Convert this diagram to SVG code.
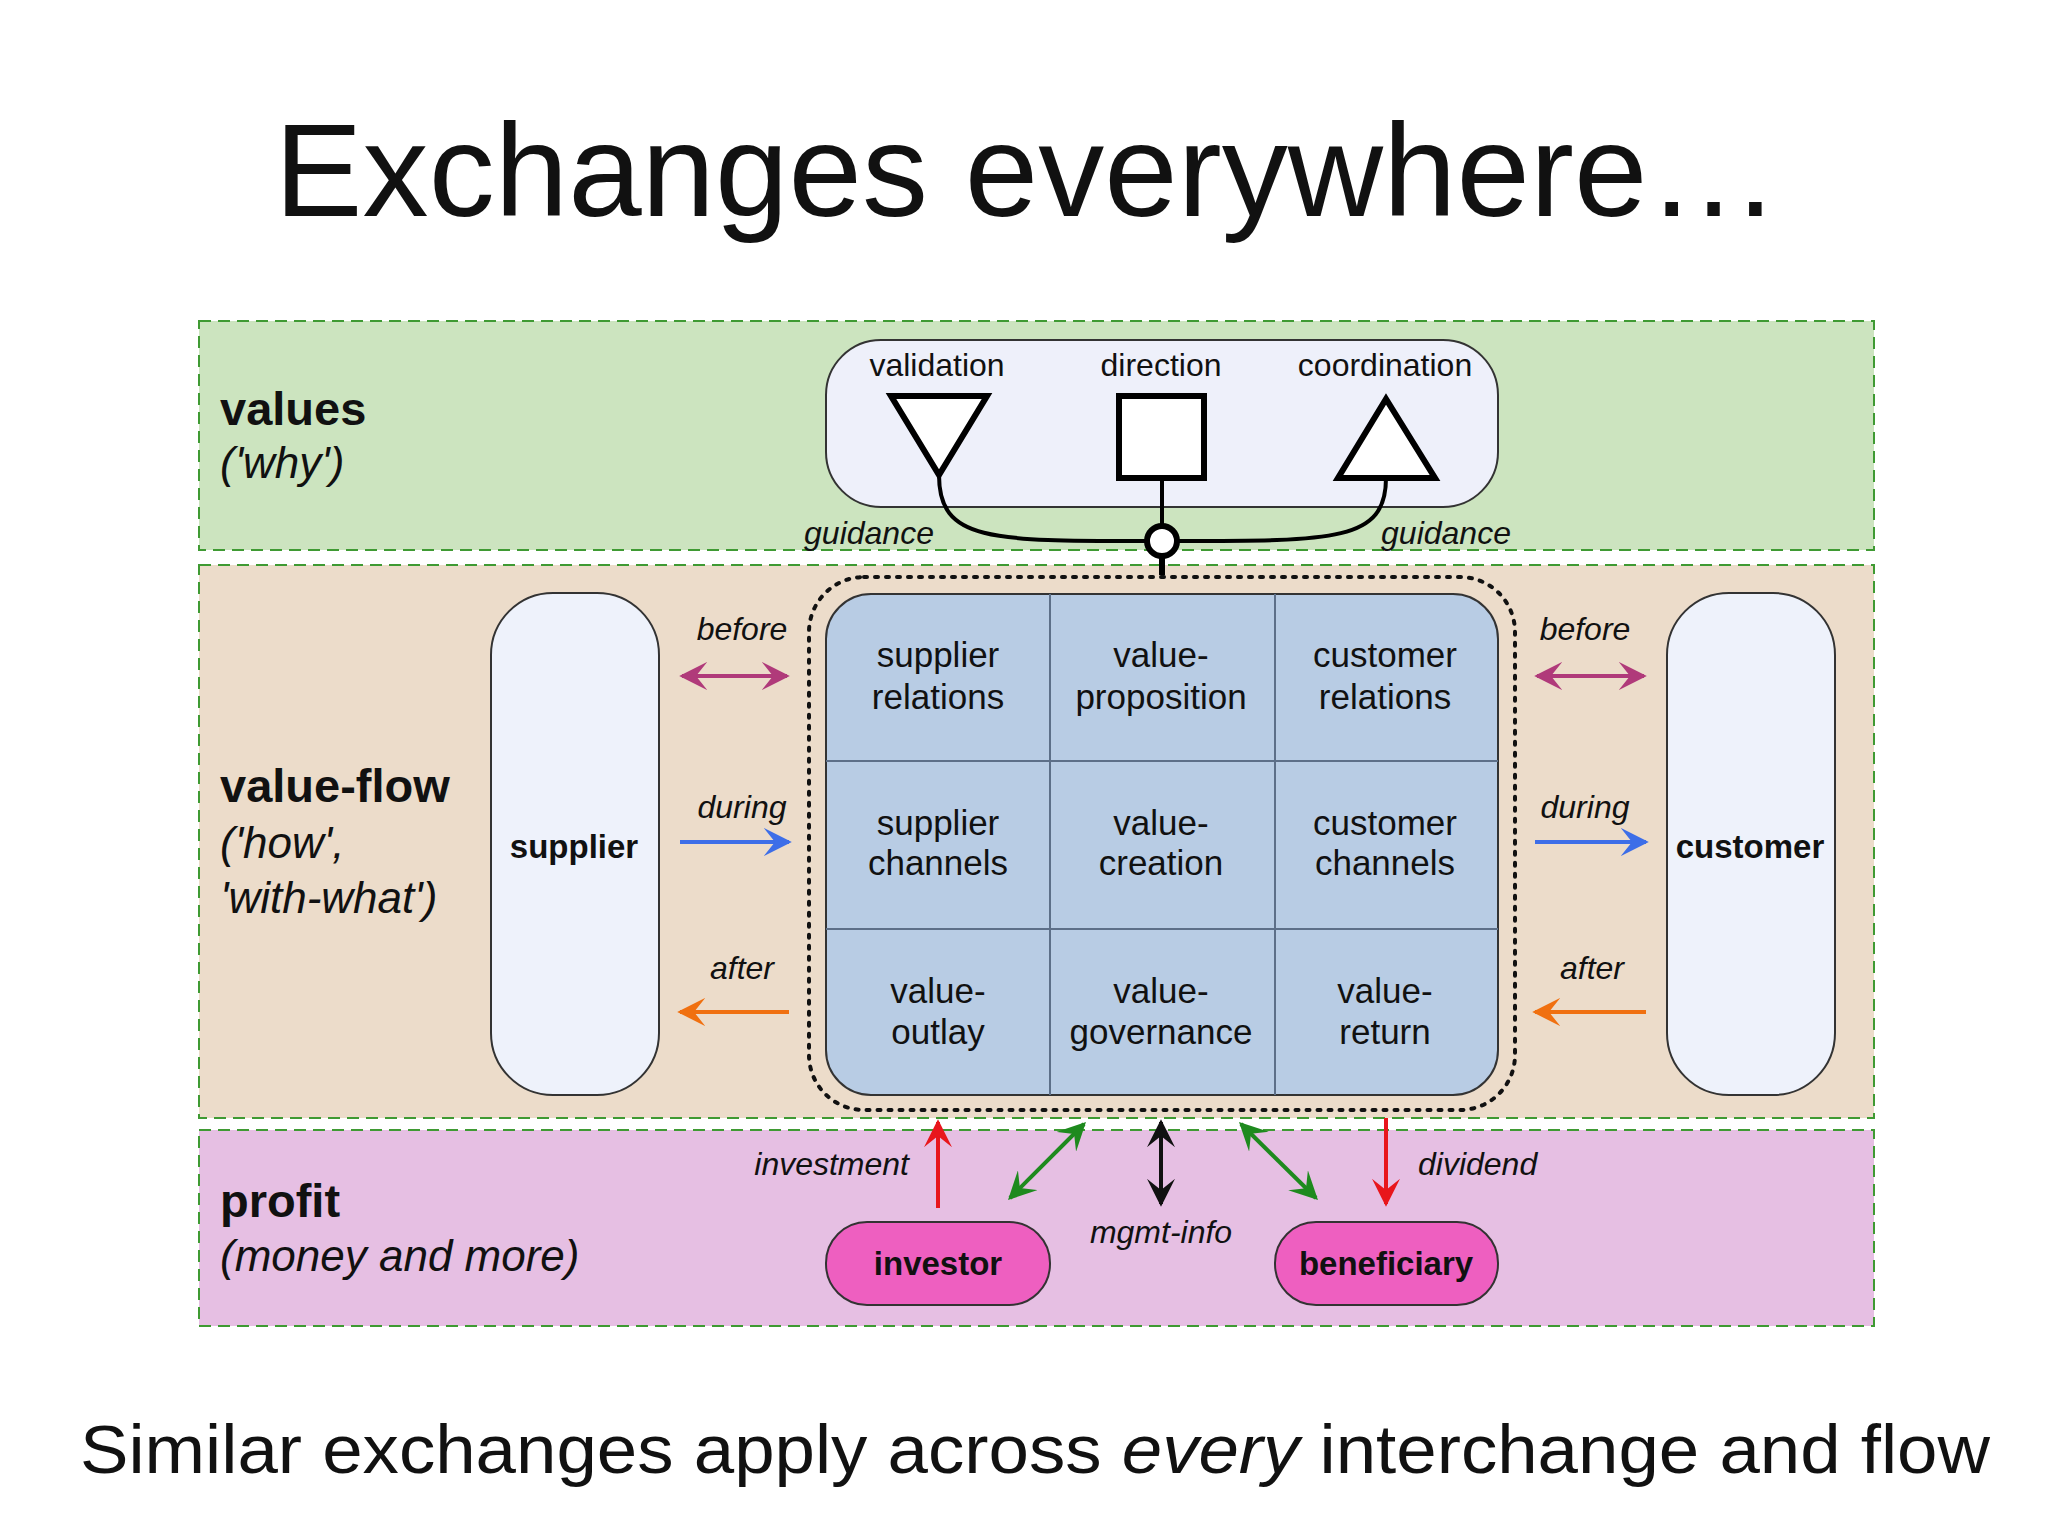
<svg xmlns="http://www.w3.org/2000/svg" width="2048" height="1536" viewBox="0 0 2048 1536">
<defs>
<style>
text{font-family:"Liberation Sans",Arial,sans-serif;fill:#111}
.band{stroke:#3f9a33;stroke-width:2;stroke-dasharray:12 7}
.lab{font-size:47px;font-weight:bold}
.sub{font-size:44px;font-style:italic}
.it{font-size:32px;font-style:italic}
.cell{font-size:35px;text-anchor:middle}
.pill{fill:#eef2fb;stroke:#333;stroke-width:2}
.bold{font-size:33px;font-weight:bold;text-anchor:middle}
</style>
<marker id="mp" viewBox="0 0 10 10" refX="9" refY="5" markerWidth="7" markerHeight="7" orient="auto-start-reverse"><path d="M0,0 L10,5 L0,10 L4,5z" fill="#b03a7a"/></marker>
<marker id="mb" viewBox="0 0 10 10" refX="9" refY="5" markerWidth="7" markerHeight="7" orient="auto-start-reverse"><path d="M0,0 L10,5 L0,10 L4,5z" fill="#3d6ee8"/></marker>
<marker id="mo" viewBox="0 0 10 10" refX="9" refY="5" markerWidth="7" markerHeight="7" orient="auto-start-reverse"><path d="M0,0 L10,5 L0,10 L4,5z" fill="#f07010"/></marker>
<marker id="mr" viewBox="0 0 10 10" refX="9" refY="5" markerWidth="7" markerHeight="7" orient="auto-start-reverse"><path d="M0,0 L10,5 L0,10 L4,5z" fill="#e8161c"/></marker>
<marker id="mg" viewBox="0 0 10 10" refX="9" refY="5" markerWidth="7" markerHeight="7" orient="auto-start-reverse"><path d="M0,0 L10,5 L0,10 L4,5z" fill="#1e8a1e"/></marker>
<marker id="mk" viewBox="0 0 10 10" refX="9" refY="5" markerWidth="7" markerHeight="7" orient="auto-start-reverse"><path d="M0,0 L10,5 L0,10 L4,5z" fill="#111"/></marker>
</defs>
<rect width="2048" height="1536" fill="#fff"/>
<text x="1027" y="216" font-size="132" text-anchor="middle" textLength="1505">Exchanges everywhere…</text>

<g id="bands">
<rect class="band" x="199" y="321" width="1675" height="229" fill="#cce4bf"/>
<rect class="band" x="199" y="565" width="1675" height="553" fill="#ecdcca"/>
<rect class="band" x="199" y="1130" width="1675" height="196" fill="#e6bfe3"/>
</g>
<g id="band-labels">
<text class="lab" x="220" y="425">values</text>
<text class="sub" x="220" y="478">('why')</text>
<text class="lab" x="220" y="802">value-flow</text>
<text class="sub" x="220" y="858">('how',</text>
<text class="sub" x="220" y="913">'with-what')</text>
<text class="lab" x="220" y="1217">profit</text>
<text class="sub" x="220" y="1271">(money and more)</text>
</g>

<g id="values-box">
<rect x="826" y="340" width="672" height="167" rx="55" fill="#eef0fa" stroke="#333" stroke-width="2"/>
<text x="937" y="376" font-size="32" text-anchor="middle">validation</text>
<text x="1161" y="376" font-size="32" text-anchor="middle">direction</text>
<text x="1385" y="376" font-size="32" text-anchor="middle">coordination</text>
<polygon points="891,396 987,396 939,475" fill="#fff" stroke="#000" stroke-width="6"/>
<rect x="1119" y="396" width="85" height="82" fill="#fff" stroke="#000" stroke-width="6"/>
<polygon points="1338,478 1435,478 1386,399" fill="#fff" stroke="#000" stroke-width="6"/>
</g>

<g id="core">
<rect x="809" y="577" width="706" height="533" rx="55" fill="none" stroke="#111" stroke-width="4" stroke-dasharray="3 8" stroke-linecap="round"/>
<rect x="826" y="594" width="672" height="501" rx="45" fill="#b8cce4" stroke="#333" stroke-width="2"/>
<g stroke="#5d6f88" stroke-width="2">
<line x1="1050" y1="594" x2="1050" y2="1095"/><line x1="1275" y1="594" x2="1275" y2="1095"/>
<line x1="826" y1="761" x2="1498" y2="761"/><line x1="826" y1="929" x2="1498" y2="929"/>
</g>
<text class="cell" x="938" y="667">supplier</text><text class="cell" x="938" y="709">relations</text>
<text class="cell" x="1161" y="667">value-</text><text class="cell" x="1161" y="709">proposition</text>
<text class="cell" x="1385" y="667">customer</text><text class="cell" x="1385" y="709">relations</text>
<text class="cell" x="938" y="835">supplier</text><text class="cell" x="938" y="875">channels</text>
<text class="cell" x="1161" y="835">value-</text><text class="cell" x="1161" y="875">creation</text>
<text class="cell" x="1385" y="835">customer</text><text class="cell" x="1385" y="875">channels</text>
<text class="cell" x="938" y="1003">value-</text><text class="cell" x="938" y="1044">outlay</text>
<text class="cell" x="1161" y="1003">value-</text><text class="cell" x="1161" y="1044">governance</text>
<text class="cell" x="1385" y="1003">value-</text><text class="cell" x="1385" y="1044">return</text>
</g>

<g id="supplier"><rect class="pill" x="491" y="593" width="168" height="502" rx="62"/><text class="bold" x="574" y="858">supplier</text></g>
<g id="customer"><rect class="pill" x="1667" y="593" width="168" height="502" rx="62"/><text class="bold" x="1750" y="858">customer</text></g>
<g id="investor"><rect x="826" y="1222" width="224" height="83" rx="41" fill="#ee5fc0" stroke="#333" stroke-width="2"/><text class="bold" x="938" y="1275">investor</text></g>
<g id="beneficiary"><rect x="1275" y="1222" width="223" height="83" rx="41" fill="#ee5fc0" stroke="#333" stroke-width="2"/><text class="bold" x="1386" y="1275">beneficiary</text></g>

<g id="connectors" fill="none" stroke-width="4">
<path d="M939,475 C939,541 990,541 1146,541" stroke="#000"/>
<path d="M1386,478 C1386,541 1335,541 1178,541" stroke="#000"/>
<line x1="1162" y1="478" x2="1162" y2="525" stroke="#000"/>
<line x1="1162" y1="557" x2="1162" y2="575" stroke="#000" stroke-width="6"/>
<circle cx="1162" cy="541" r="15" stroke="#000" stroke-width="6" fill="#fff"/>
<line x1="682" y1="676" x2="787" y2="676" stroke="#b03a7a" marker-start="url(#mp)" marker-end="url(#mp)"/>
<line x1="680" y1="842" x2="789" y2="842" stroke="#3d6ee8" marker-end="url(#mb)"/>
<line x1="789" y1="1012" x2="680" y2="1012" stroke="#f07010" marker-end="url(#mo)"/>
<line x1="1537" y1="676" x2="1644" y2="676" stroke="#b03a7a" marker-start="url(#mp)" marker-end="url(#mp)"/>
<line x1="1535" y1="842" x2="1646" y2="842" stroke="#3d6ee8" marker-end="url(#mb)"/>
<line x1="1646" y1="1012" x2="1535" y2="1012" stroke="#f07010" marker-end="url(#mo)"/>
<line x1="938" y1="1208" x2="938" y2="1122" stroke="#e8161c" marker-end="url(#mr)"/>
<line x1="1010" y1="1198" x2="1084" y2="1124" stroke="#1e8a1e" marker-start="url(#mg)" marker-end="url(#mg)"/>
<line x1="1161" y1="1122" x2="1161" y2="1204" stroke="#111" marker-start="url(#mk)" marker-end="url(#mk)"/>
<line x1="1241" y1="1124" x2="1316" y2="1198" stroke="#1e8a1e" marker-start="url(#mg)" marker-end="url(#mg)"/>
<line x1="1386" y1="1118" x2="1386" y2="1204" stroke="#e8161c" marker-end="url(#mr)"/>
</g>
<g id="connector-labels">
<text class="it" x="869" y="544" text-anchor="middle">guidance</text>
<text class="it" x="1446" y="544" text-anchor="middle">guidance</text>
<text class="it" x="742" y="640" text-anchor="middle">before</text>
<text class="it" x="742" y="818" text-anchor="middle">during</text>
<text class="it" x="742" y="979" text-anchor="middle">after</text>
<text class="it" x="1585" y="640" text-anchor="middle">before</text>
<text class="it" x="1585" y="818" text-anchor="middle">during</text>
<text class="it" x="1592" y="979" text-anchor="middle">after</text>
<text class="it" x="909" y="1175" text-anchor="end">investment</text>
<text class="it" x="1161" y="1243" text-anchor="middle">mgmt-info</text>
<text class="it" x="1418" y="1175">dividend</text>
</g>
<text x="80" y="1473" font-size="68" textLength="1910" lengthAdjust="spacingAndGlyphs">Similar exchanges apply across <tspan font-style="italic">every</tspan> interchange and flow</text>
</svg>
